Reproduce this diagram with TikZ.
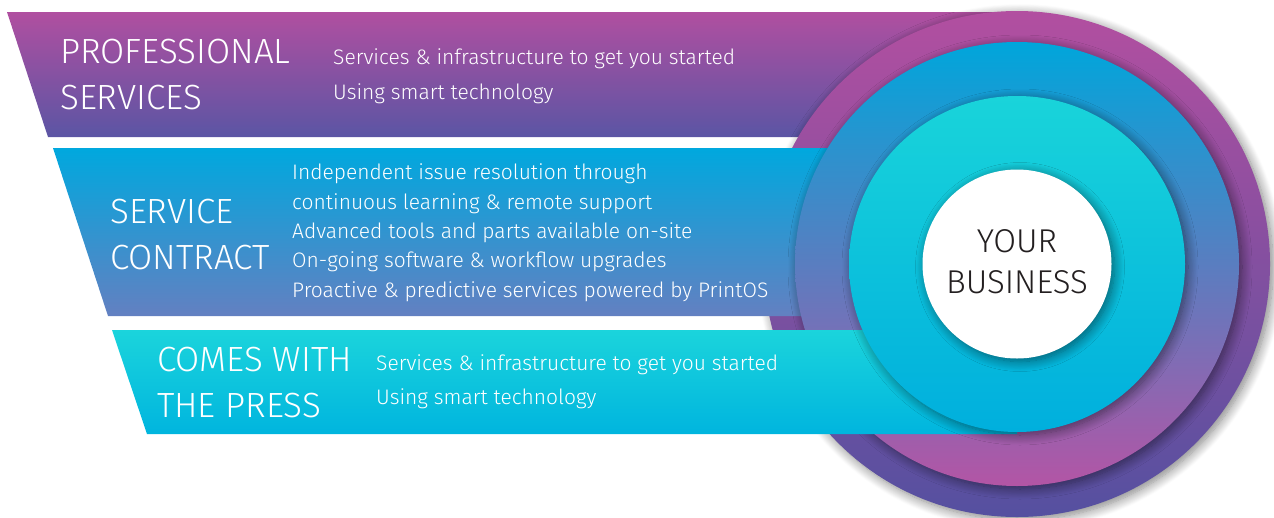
\documentclass[tikz,border=0pt]{standalone}
\usepackage{fontspec}
\setmainfont{Fira Sans Light}
\usetikzlibrary{shadows.blur}
\definecolor{bandApink}{HTML}{B04FA0}
\definecolor{bandApurple}{HTML}{5B55A4}
\definecolor{bandBblue}{HTML}{00A8DE}
\definecolor{bandBslate}{HTML}{6380C1}
\definecolor{bandCcyan}{HTML}{1BD4DC}
\definecolor{bandCblue}{HTML}{00B5DE}
\definecolor{outerTop}{HTML}{B24FA0}
\definecolor{outerMid}{HTML}{7B4E9E}
\definecolor{outerBot}{HTML}{5550A0}
\definecolor{blueTop}{HTML}{00A6DB}
\definecolor{blueMid}{HTML}{4F84C5}
\definecolor{blueBot}{HTML}{B355A5}
\definecolor{cyanTop}{HTML}{19D4DA}
\definecolor{cyanBot}{HTML}{00AFDD}
\definecolor{darktext}{HTML}{231F20}
\tikzset{
  ring/.style={circle, inner sep=0pt, draw=none},
  soft/.style={blur shadow={shadow xshift=3pt, shadow yshift=-3pt, shadow blur radius=10pt, shadow blur steps=12, shadow opacity=50}},
  title/.style={anchor=base west, inner sep=0pt, text=white, font=\fontsize{35}{40}\selectfont},
  body/.style={anchor=base west, inner sep=0pt, text=white, font=\fontsize{21}{24}\selectfont},
  core/.style={font=\fontsize{33}{40}\selectfont, text=darktext, align=center}
}
\begin{document}
\begin{tikzpicture}[x=1pt,y=-1pt]
\useasboundingbox (0,0) rectangle (1274,517);
% band 1
\shade[top color=bandApink, bottom color=bandApurple] (7,12) -- (1017,12) -- (1017,137) -- (48,137) -- cycle;
% outer circle
\node[ring, minimum size=506pt, top color=outerTop, middle color=outerMid, bottom color=outerBot, soft] (outer) at (1017,264) {};
% band 2
\shade[top color=bandBblue, bottom color=bandBslate] (53,148) -- (950,148) -- (950,316) -- (108,316) -- cycle;
% blue circle
\node[ring, minimum size=444pt, top color=blueTop, middle color=blueMid, bottom color=blueBot, soft] (blue) at (1017,264) {};
% band 3
\shade[top color=bandCcyan, bottom color=bandCblue] (112,330) -- (1017,330) -- (1017,434) -- (147,434) -- cycle;
% cyan circle
\node[ring, minimum size=336pt, top color=cyanTop, bottom color=cyanBot, soft] (cyan) at (1017,264) {};
% white core
\node[ring, minimum size=189pt, fill=white, soft] (core) at (1017,264) {};
\node[core, anchor=base] (your) at (1017,252) {YOUR};
\node[core, anchor=base] (business) at (1017,293) {BUSINESS};
% texts band 1
\node[title] (ps1) at (60,63) {PROFESSIONAL};
\node[title] (ps2) at (60,109) {SERVICES};
\node[body] (pa) at (333,64) {Services \& infrastructure to get you started};
\node[body] (pb) at (333,99) {Using smart technology};
% texts band 2
\node[title] (sc1) at (110,223) {SERVICE};
\node[title] (sc2) at (110,269) {CONTRACT};
\node[body] (sa) at (292,179) {Independent issue resolution through};
\node[body] (sb) at (292,209) {continuous learning \& remote support};
\node[body] (sc) at (292,238) {Advanced tools and parts available on-site};
\node[body] (sd) at (292,267) {On-going software \& workflow upgrades};
\node[body] (se) at (292,297) {Proactive \& predictive services powered by PrintOS};
% texts band 3
\node[title] (cw1) at (157,371) {COMES WITH};
\node[title] (cw2) at (157,417) {THE PRESS};
\node[body] (ca) at (376,370) {Services \& infrastructure to get you started};
\node[body] (cb) at (376,404) {Using smart technology};
\end{tikzpicture}
\end{document}
